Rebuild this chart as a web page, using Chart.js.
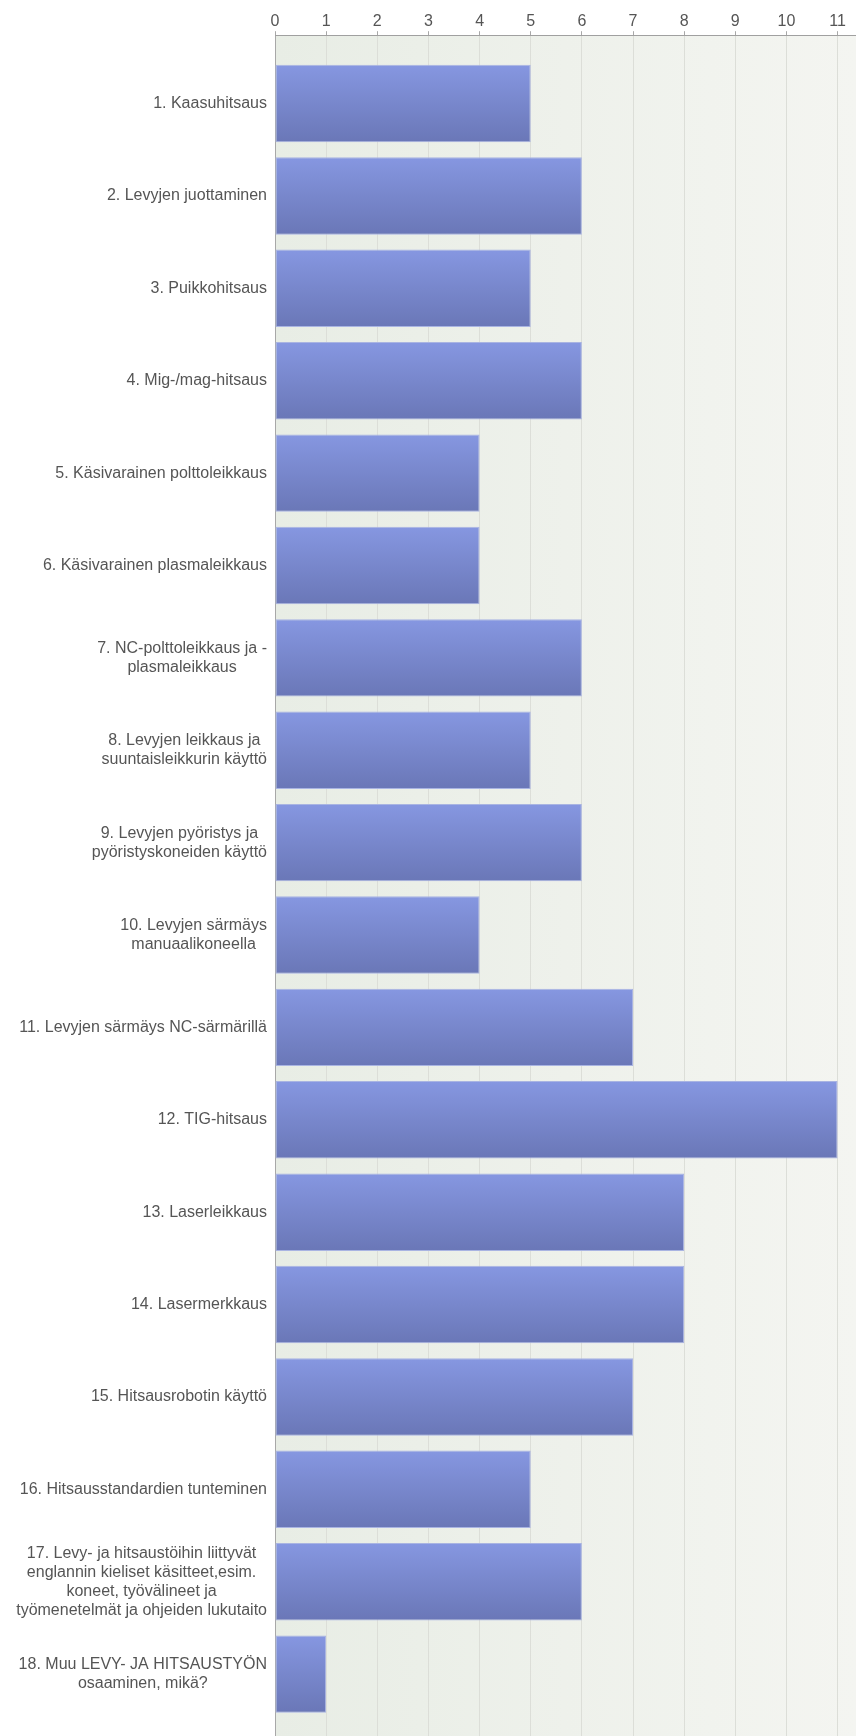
<!DOCTYPE html>
<html>
<head>
<meta charset="utf-8">
<script src="https://cdn.jsdelivr.net/npm/chart.js@4.4.1/dist/chart.umd.min.js"></script>
<style>
  html, body { margin: 0; padding: 0; background: #fff; }
  #wrap { width: 856px; height: 1736px; position: relative; }
</style>
</head>
<body>
<div id="wrap"><canvas id="lienzo"></canvas></div>
<script>
// Kategoriat (rivit rivitettyinä kuten kuvassa)
const kategoriat = [
    ["1. Kaasuhitsaus"],
    ["2. Levyjen juottaminen"],
    ["3. Puikkohitsaus"],
    ["4. Mig-/mag-hitsaus"],
    ["5. Käsivarainen polttoleikkaus"],
    ["6. Käsivarainen plasmaleikkaus"],
    ["7. NC-polttoleikkaus ja -", "plasmaleikkaus"],
    ["8. Levyjen leikkaus ja", "suuntaisleikkurin käyttö"],
    ["9. Levyjen pyöristys ja", "pyöristyskoneiden käyttö"],
    ["10. Levyjen särmäys", "manuaalikoneella"],
    ["11. Levyjen särmäys NC-särmärillä"],
    ["12. TIG-hitsaus"],
    ["13. Laserleikkaus"],
    ["14. Lasermerkkaus"],
    ["15. Hitsausrobotin käyttö"],
    ["16. Hitsausstandardien tunteminen"],
    ["17. Levy- ja hitsaustöihin liittyvät", "englannin kieliset käsitteet,esim.", "koneet, työvälineet ja", "työmenetelmät ja ohjeiden lukutaito"],
    ["18. Muu LEVY- JA HITSAUSTYÖN", "osaaminen, mikä?"]
];
const vastaukset = [5, 6, 5, 6, 4, 4, 6, 5, 6, 4, 7, 11, 8, 8, 7, 5, 6, 1];
const xTicks = [0, 1, 2, 3, 4, 5, 6, 7, 8, 9, 10, 11];

const fontti = "'Liberation Sans', Arial, sans-serif";
const tekstiVari = '#555555';

// taustan väri plot-alueelle
const taustaPlugin = {
    id: 'tausta',
    beforeDraw(chart) {
        const { ctx, chartArea } = chart;
        if (!chartArea) return;
        const g = ctx.createLinearGradient(chartArea.left, 0, chartArea.right, 0);
        g.addColorStop(0, '#e8ede5');
        g.addColorStop(1, '#f4f5f1');
        ctx.save();
        ctx.fillStyle = g;
        ctx.fillRect(chartArea.left, chartArea.top, chartArea.right - chartArea.left, chartArea.bottom - chartArea.top);
        ctx.restore();
    }
};

// y-akselin tekstit: lohko oikealle, rivit keskitettynä
const nimiPlugin = {
    id: 'nimet',
    afterDraw(chart) {
        const { ctx, chartArea } = chart;
        const y = chart.scales.y;
        const lineH = 19;
        ctx.save();
        ctx.font = '16px ' + fontti;
        ctx.fillStyle = tekstiVari;
        ctx.textAlign = 'center';
        ctx.textBaseline = 'middle';
        kategoriat.forEach((rivit, i) => {
            const cy = y.getPixelForValue(i);
            let w = 0;
            rivit.forEach(r => { w = Math.max(w, ctx.measureText(r).width); });
            const cx = chartArea.left - 8 - w / 2;
            rivit.forEach((r, k) => {
                ctx.fillText(r, cx, cy + (k - (rivit.length - 1) / 2) * lineH);
            });
        });
        ctx.restore();
    }
};

function palkkiVari(c) {
    const chart = c.chart;
    const y = chart.scales.y;
    if (!chart.chartArea || !y) return '#7888cc';
    const cy = y.getPixelForValue(c.dataIndex);
    const half = Math.abs(y.getPixelForValue(1) - y.getPixelForValue(0)) * 0.838 / 2;
    const g = chart.ctx.createLinearGradient(0, cy - half, 0, cy + half);
    g.addColorStop(0, '#8697e1');
    g.addColorStop(1, '#6a77b7');
    return g;
}

const contexto = document.getElementById("lienzo").getContext("2d");
const grafico = new Chart(contexto, {
    type: 'bar',
    data: {
        datasets: [{
            label: 'Vastaukset',
            data: vastaukset.map((v, i) => ({ x: v, y: i })),
            backgroundColor: palkkiVari,
            borderColor: '#a9b4e2',
            borderWidth: 1,
            borderSkipped: false,
            barPercentage: 0.838,
            categoryPercentage: 1
        }]
    },
    options: {
        indexAxis: 'y',
        responsive: true,
        maintainAspectRatio: false,
        animation: false,
        layout: { padding: { left: 275, top: 12, right: 0, bottom: 0 } },
        scales: {
            x: {
                type: 'linear',
                position: 'top',
                min: 0,
                max: 11.36,
                afterBuildTicks: (s) => { s.ticks = xTicks.map(v => ({ value: v })); },
                ticks: {
                    color: tekstiVari,
                    font: { family: fontti, size: 16 },
                    padding: 0,
                    maxRotation: 0
                },
                grid: {
                    color: (c) => c.tick && c.tick.value === 0 ? '#a8a8a8' : '#dcded8',
                    lineWidth: 1,
                    tickLength: 4,
                    tickColor: '#a8a8a8'
                },
                border: { color: '#a0a0a0', width: 1 }
            },
            y: {
                type: 'linear',
                reverse: true,
                offset: false,
                min: -0.74,
                max: 17.67,
                afterBuildTicks: (s) => { s.ticks = kategoriat.map((k, i) => ({ value: i })); },
                display: false
            }
        },
        plugins: {
            legend: { display: false },
            tooltip: { enabled: false }
        }
    },
    plugins: [taustaPlugin, nimiPlugin]
});
</script>
</body>
</html>
